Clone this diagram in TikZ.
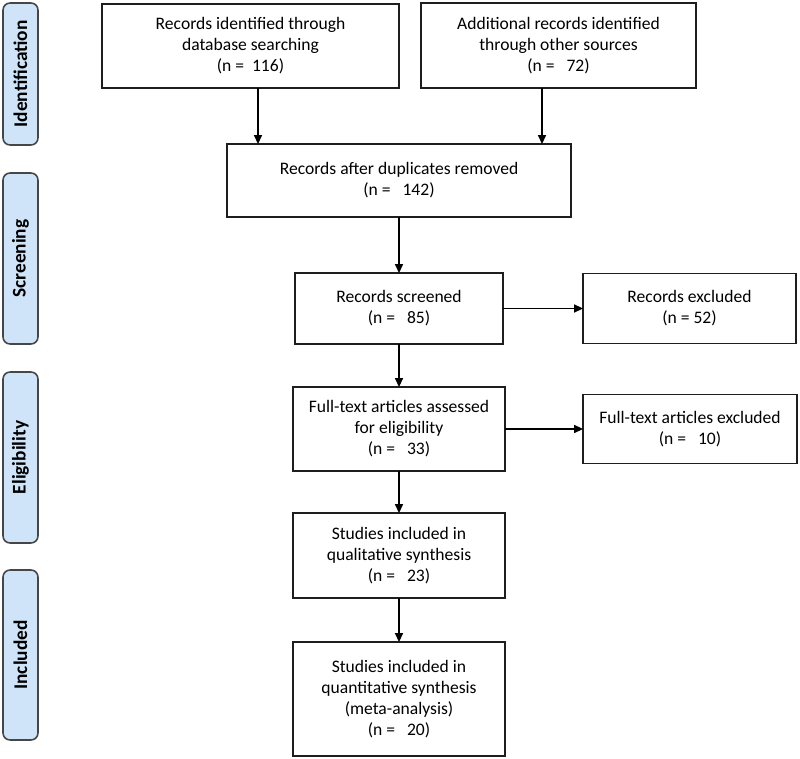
\documentclass[tikz,border=0pt]{standalone}
\usepackage{fontspec}
\setmainfont{Carlito}
\usepackage{xcolor}
\usepackage{tikz}
\usetikzlibrary{arrows.meta,positioning,calc}
\definecolor{phaseBlue} {RGB}{207, 228, 248}
\definecolor{phaseLine} {RGB}{70,  70,  70}
\definecolor{boxLine}   {RGB}{30,  30,  30}

\tikzset{
  flowbox/.style={draw=boxLine,line width=0.85pt,fill=white,align=center,
                  inner sep=2pt,outer sep=0pt,
                  font=\fontsize{10}{12}\selectfont},
  phasebox/.style={draw=phaseLine,line width=0.9pt,fill=phaseBlue,
                   rounded corners=4pt,rotate=90,inner sep=0pt,outer sep=0pt,
                   minimum height=0.7cm,font=\fontsize{11}{13}\selectfont\bfseries},
  flowarrow/.style={-{Triangle[length=5pt,width=4.5pt]},line width=0.85pt,black}
}

\begin{document}
\begin{tikzpicture}[x=0.02cm,y=-0.02cm]
        \useasboundingbox (0,0) rectangle (800,759);
        % Fases (lado esquerdo)
        \foreach \name/\lab/\yc/\len in {ident/Identification/74/2.84cm,
                                         screen/Screening/258.5/3.42cm,
                                         elig/Eligibility/457.5/3.42cm,
                                         incl/Included/655/3.40cm}{
          \node[phasebox,minimum width=\len] (phase-\name) at (20.5,\yc) {\lab};
        }

        % Identificacao
        \node[flowbox,minimum width=5.94cm,minimum height=1.68cm] (idb) at (250.5,46)
          {Records identified through\\database searching\\(n =\ \ 116)};
        \node[flowbox,minimum width=5.50cm,minimum height=1.70cm] (ido) at (558.5,45.5)
          {Additional records identified\\through other sources\\(n =\ \ \ 72)};

        % Triagem
        \node[flowbox,minimum width=6.88cm,minimum height=1.46cm] (dup) at (399,180.5)
          {Records after duplicates removed\\(n =\ \ \ 142)};
        \node[flowbox,minimum width=4.16cm,minimum height=1.42cm] (scr) at (399,308.5)
          {Records screened\\(n =\ \ \ 85)};
        \node[flowbox,minimum width=4.26cm,minimum height=1.40cm] (exc) at (689.5,308.5)
          {Records excluded\\(n = 52)};

        % Elegibilidade
        \node[flowbox,minimum width=4.24cm,minimum height=1.68cm] (full) at (399,429)
          {Full-text articles assessed\\for eligibility\\(n =\ \ \ 33)};
        \node[flowbox,minimum width=4.28cm,minimum height=1.38cm] (fexc) at (690,429)
          {Full-text articles excluded\\(n =\ \ \ 10)};

        % Incluidos
        \node[flowbox,minimum width=4.24cm,minimum height=1.70cm] (qual) at (399,555.5)
          {Studies included in\\qualitative synthesis\\(n =\ \ \ 23)};
        \node[flowbox,minimum width=4.24cm,minimum height=2.28cm] (quan) at (399,699)
          {Studies included in\\quantitative synthesis\\(meta-analysis)\\(n =\ \ \ 20)};

        % Setas
        \draw[flowarrow] ([xshift=0.15cm]idb.south) -- ([xshift=0.15cm]idb.south |- dup.north);
        \draw[flowarrow] ([xshift=-0.33cm]ido.south) -- ([xshift=-0.33cm]ido.south |- dup.north);
        \draw[flowarrow] (dup) -- (scr);
        \draw[flowarrow] (scr) -- (exc);
        \draw[flowarrow] (scr) -- (full);
        \draw[flowarrow] (full) -- (fexc);
        \draw[flowarrow] (full) -- (qual);
        \draw[flowarrow] (qual) -- (quan);
      \end{tikzpicture}
\end{document}
